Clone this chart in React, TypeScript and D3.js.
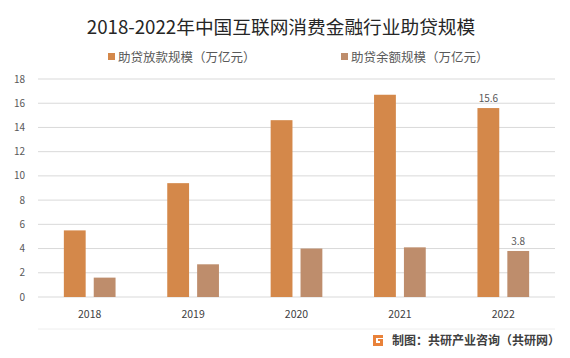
import * as d3 from "d3";

const YEARS = ["2018", "2019", "2020", "2021", "2022"];
const LOAN_ISSUED = [5.5, 9.4, 14.6, 16.7, 15.6];
const LOAN_BALANCE = [1.6, 2.7, 4.0, 4.1, 3.8];
const Y_TICKS = [0, 2, 4, 6, 8, 10, 12, 14, 16, 18];
const SERIES_NAMES = ["助贷放款规模（万亿元）", "助贷余额规模（万亿元）"];
const LABELED_YEAR = "2022";

const W = 570;
const H = 358;
const ORANGE = "#D4884A";
const BROWN = "#BE8D6C";
const GRID = "#D9D9D9";
const AXIS_TEXT = "#595959";
const FONT = "'Microsoft YaHei', 'Noto Sans CJK SC', sans-serif";

export default function App() {
  const margin = { top: 79, left: 38, right: 15, bottom: 61 };
  const plotW = W - margin.left - margin.right;
  const plotH = H - margin.top - margin.bottom;

  const x = d3.scaleBand<string>().domain(YEARS).range([0, plotW]);
  const inner = d3
    .scaleBand<number>()
    .domain([0, 1])
    .range([x.bandwidth() * 0.25, x.bandwidth() * 0.75])
    .paddingInner(0.27);
  const y = d3.scaleLinear().domain([0, 18]).range([plotH, 0]);

  const series = [LOAN_ISSUED, LOAN_BALANCE];
  const colors = [ORANGE, BROWN];

  return (
    <svg
      width={W}
      height={H}
      style={{ position: "absolute", left: 0, top: 0, background: "#fff" }}
      fontFamily={FONT}
    >
      <text x={281} y={34} textAnchor="middle" fontSize={18.7} fill="#262626">
        2018-2022年中国互联网消费金融行业助贷规模
      </text>

      {/* Legend */}
      {SERIES_NAMES.map((name, i) => {
        const lx = i === 0 ? 108 : 341;
        return (
          <g key={name} transform={`translate(${lx},57)`}>
            <rect x={0} y={-4} width={7} height={7} fill={colors[i]} />
            <text x={10} y={4.5} fontSize={12.5} fill={AXIS_TEXT}>
              {name}
            </text>
          </g>
        );
      })}

      <g transform={`translate(${margin.left},${margin.top})`}>
        {Y_TICKS.map((t) => (
          <g key={t}>
            <line x1={0} x2={plotW} y1={y(t)} y2={y(t)} stroke={GRID} strokeWidth={1} />
            <text
              x={-13}
              y={y(t)}
              dy="0.35em"
              textAnchor="end"
              fontSize={10}
              fill={AXIS_TEXT}
            >
              {t}
            </text>
          </g>
        ))}

        {YEARS.map((yr, i) => (
          <g key={yr} transform={`translate(${x(yr)},0)`}>
            {series.map((s, j) => (
              <g key={j}>
                <rect
                  x={inner(j)}
                  y={y(s[i])}
                  width={inner.bandwidth()}
                  height={plotH - y(s[i])}
                  fill={colors[j]}
                />
                {yr === LABELED_YEAR && (
                  <text
                    x={(inner(j) ?? 0) + inner.bandwidth() / 2}
                    y={y(s[i]) - 6}
                    textAnchor="middle"
                    fontSize={10}
                    fill={AXIS_TEXT}
                  >
                    {s[i].toFixed(1)}
                  </text>
                )}
              </g>
            ))}
            <text
              x={x.bandwidth() / 2}
              y={plotH + 21}
              textAnchor="middle"
              fontSize={10.5}
              fill="#404040"
            >
              {yr}
            </text>
          </g>
        ))}

        <line
          x1={0}
          x2={plotW}
          y1={plotH + 32}
          y2={plotH + 32}
          stroke="#EEEEEE"
          strokeWidth={1}
        />
      </g>

      {/* Source */}
      <g transform="translate(373,333)">
        <path d="M0,2 h10 v3 h-7 v5 h4 v-2 h-2 v-2 h5 v7 h-10 z" fill="#E9823A" />
        <text x={19} y={12} fontSize={12} fontWeight="bold" fill="#404040">
          制图：共研产业咨询（共研网）
        </text>
      </g>
    </svg>
  );
}
